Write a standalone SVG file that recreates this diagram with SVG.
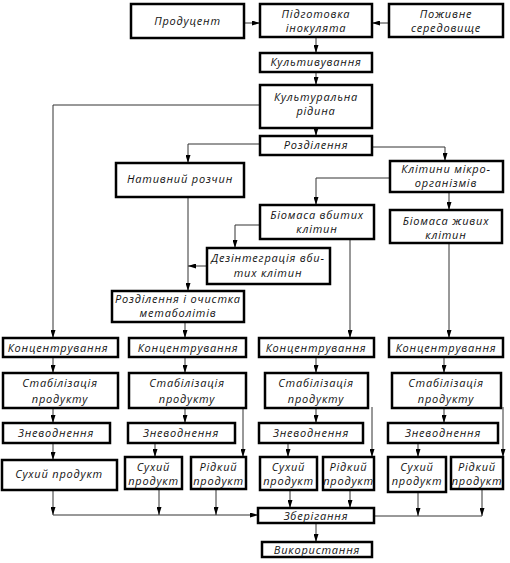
<svg xmlns="http://www.w3.org/2000/svg" width="510" height="563" viewBox="0 0 510 563">
<style>
.b{fill:#fff;stroke:#000;stroke-width:2.5}
text{font-family:"Open Sans","DejaVu Sans",sans-serif;font-style:italic;font-size:11px;letter-spacing:0.8px;text-anchor:middle;fill:#111}
.c{fill:none;stroke:#333;stroke-width:1}
</style>
<defs>
<marker id="a" markerUnits="userSpaceOnUse" markerWidth="8" markerHeight="5" refX="8" refY="2.5" orient="auto"><path d="M0,0L8,2.5L0,5z" fill="#000"/></marker>
</defs>
<rect width="510" height="563" fill="#fff"/>
<g id="connectors">
<path class="c" marker-end="url(#a)" d="M244,23H260"/>
<path class="c" marker-end="url(#a)" d="M389,23H372"/>
<path class="c" marker-end="url(#a)" d="M316,37V53"/>
<path class="c" marker-end="url(#a)" d="M316,72V85"/>
<path class="c" marker-end="url(#a)" d="M316,128V136"/>
<path class="c" marker-end="url(#a)" d="M260,105H53V338"/>
<path class="c" marker-end="url(#a)" d="M260,144H188V163"/>
<path class="c" marker-end="url(#a)" d="M372,147H445V161"/>
<path class="c" marker-end="url(#a)" d="M390,178H316V205"/>
<path class="c" marker-end="url(#a)" d="M449,192V210"/>
<path class="c" marker-end="url(#a)" d="M260,225H235V248"/>
<path class="c" marker-end="url(#a)" d="M207,266H188"/>
<path class="c" marker-end="url(#a)" d="M188,197V291"/>
<path class="c" marker-end="url(#a)" d="M185,322V338"/>
<path class="c" marker-end="url(#a)" d="M350,239V338"/>
<path class="c" marker-end="url(#a)" d="M449,243V338"/>
<path class="c" marker-end="url(#a)" d="M53,357V373"/>
<path class="c" marker-end="url(#a)" d="M53,408V423"/>
<path class="c" marker-end="url(#a)" d="M53,443V460"/>
<path class="c" marker-end="url(#a)" d="M53,490V515"/>
<path class="c" marker-end="url(#a)" d="M53,515H258"/>
<path class="c" marker-end="url(#a)" d="M185,357V373"/>
<path class="c" marker-end="url(#a)" d="M185,408V423"/>
<path class="c" marker-end="url(#a)" d="M155,443V457"/>
<path class="c" marker-end="url(#a)" d="M243,409V457"/>
<path class="c" marker-end="url(#a)" d="M159,489V515"/>
<path class="c" marker-end="url(#a)" d="M216,489V515"/>
<path class="c" marker-end="url(#a)" d="M316,357V373"/>
<path class="c" marker-end="url(#a)" d="M316,408V423"/>
<path class="c" marker-end="url(#a)" d="M288,443V457"/>
<path class="c" marker-end="url(#a)" d="M372,407V457"/>
<path class="c" marker-end="url(#a)" d="M290,490V508"/>
<path class="c" marker-end="url(#a)" d="M350,490V508"/>
<path class="c" marker-end="url(#a)" d="M444,357V373"/>
<path class="c" marker-end="url(#a)" d="M444,408V423"/>
<path class="c" marker-end="url(#a)" d="M418,443V457"/>
<path class="c" marker-end="url(#a)" d="M503,407V457"/>
<path class="c" marker-end="url(#a)" d="M418,492V516"/>
<path class="c" marker-end="url(#a)" d="M482,490V516"/>
<path class="c" d="M374,516H482"/>
<path class="c" marker-end="url(#a)" d="M316,523V542"/>
</g>
<g id="producent"><rect class="b" x="131" y="4" width="113" height="34"/><text x="187.5" y="25">Продуцент</text></g>
<g id="inoculum"><rect class="b" x="260" y="4" width="112" height="33"/><text x="316" y="18">Підготовка</text><text x="316" y="32">інокулята</text></g>
<g id="medium"><rect class="b" x="389" y="4" width="114" height="33"/><text x="446" y="18">Поживне</text><text x="446" y="32">середовище</text></g>
<g id="cultivation"><rect class="b" x="260" y="53" width="112" height="19"/><text x="316" y="66">Культивування</text></g>
<g id="liquid"><rect class="b" x="260" y="85" width="112" height="43"/><text x="316" y="101">Культуральна</text><text x="316" y="115">рідина</text></g>
<g id="separation"><rect class="b" x="260" y="136" width="112" height="19"/><text x="316" y="149">Розділення</text></g>
<g id="native"><rect class="b" x="116" y="163" width="128" height="34"/><text x="180" y="183">Нативний розчин</text></g>
<g id="cells"><rect class="b" x="390" y="161" width="113" height="31"/><text x="446" y="173">Клітини мікро-</text><text x="446" y="187">організмів</text></g>
<g id="killed"><rect class="b" x="260" y="205" width="114" height="34"/><text x="317" y="219">Біомаса вбитих</text><text x="317" y="233">клітин</text></g>
<g id="live"><rect class="b" x="390" y="210" width="112" height="33"/><text x="446" y="225">Біомаса живих</text><text x="446" y="239">клітин</text></g>
<g id="disintegration"><rect class="b" x="207" y="248" width="123" height="36"/><text x="268" y="262">Дезінтеграція вби-</text><text x="268" y="277">тих клітин</text></g>
<g id="purification"><rect class="b" x="112" y="291" width="132" height="31"/><text x="178" y="303">Розділення і очистка</text><text x="178" y="317">метаболітів</text></g>
<g id="conc1"><rect class="b" x="3" y="338" width="115" height="19"/><text x="58" y="352">Концентрування</text></g>
<g id="conc2"><rect class="b" x="129" y="338" width="117" height="19"/><text x="188" y="352">Концентрування</text></g>
<g id="conc3"><rect class="b" x="259" y="338" width="115" height="19"/><text x="316" y="352">Концентрування</text></g>
<g id="conc4"><rect class="b" x="389" y="338" width="114" height="19"/><text x="446" y="352">Концентрування</text></g>
<g id="stab1"><rect class="b" x="3" y="373" width="115" height="35"/><text x="60" y="387">Стабілізація</text><text x="60" y="403">продукту</text></g>
<g id="stab2"><rect class="b" x="129" y="373" width="117" height="35"/><text x="187" y="387">Стабілізація</text><text x="187" y="403">продукту</text></g>
<g id="stab3"><rect class="b" x="265" y="373" width="103" height="35"/><text x="316" y="387">Стабілізація</text><text x="316" y="403">продукту</text></g>
<g id="stab4"><rect class="b" x="392" y="373" width="109" height="35"/><text x="446" y="387">Стабілізація</text><text x="446" y="403">продукту</text></g>
<g id="dehyd1"><rect class="b" x="3" y="423" width="107" height="20"/><text x="56" y="437">Зневоднення</text></g>
<g id="dehyd2"><rect class="b" x="128" y="423" width="107" height="20"/><text x="181" y="437">Зневоднення</text></g>
<g id="dehyd3"><rect class="b" x="259" y="423" width="104" height="20"/><text x="311" y="437">Зневоднення</text></g>
<g id="dehyd4"><rect class="b" x="388" y="423" width="110" height="20"/><text x="443" y="437">Зневоднення</text></g>
<g id="dry1"><rect class="b" x="2" y="460" width="115" height="30"/><text x="59" y="478">Сухий продукт</text></g>
<g id="dry2"><rect class="b" x="125" y="457" width="57" height="32"/><text x="153.5" y="471">Сухий</text><text x="153.5" y="485">продукт</text></g>
<g id="liq2"><rect class="b" x="191" y="457" width="55" height="32"/><text x="218.5" y="471">Рідкий</text><text x="218.5" y="485">продукт</text></g>
<g id="dry3"><rect class="b" x="260" y="457" width="57" height="33"/><text x="288.5" y="471">Сухий</text><text x="288.5" y="485">продукт</text></g>
<g id="liq3"><rect class="b" x="323" y="457" width="51" height="33"/><text x="348.5" y="471">Рідкий</text><text x="348.5" y="485">продукт</text></g>
<g id="dry4"><rect class="b" x="388" y="457" width="58" height="35"/><text x="417" y="471">Сухий</text><text x="417" y="485">продукт</text></g>
<g id="liq4"><rect class="b" x="451" y="457" width="52" height="32"/><text x="477" y="471">Рідкий</text><text x="477" y="485">продукт</text></g>
<g id="storage"><rect class="b" x="258" y="508" width="116" height="15"/><text x="316" y="520">Зберігання</text></g>
<g id="use"><rect class="b" x="262" y="542" width="110" height="15"/><text x="317" y="554">Використання</text></g>
</svg>
